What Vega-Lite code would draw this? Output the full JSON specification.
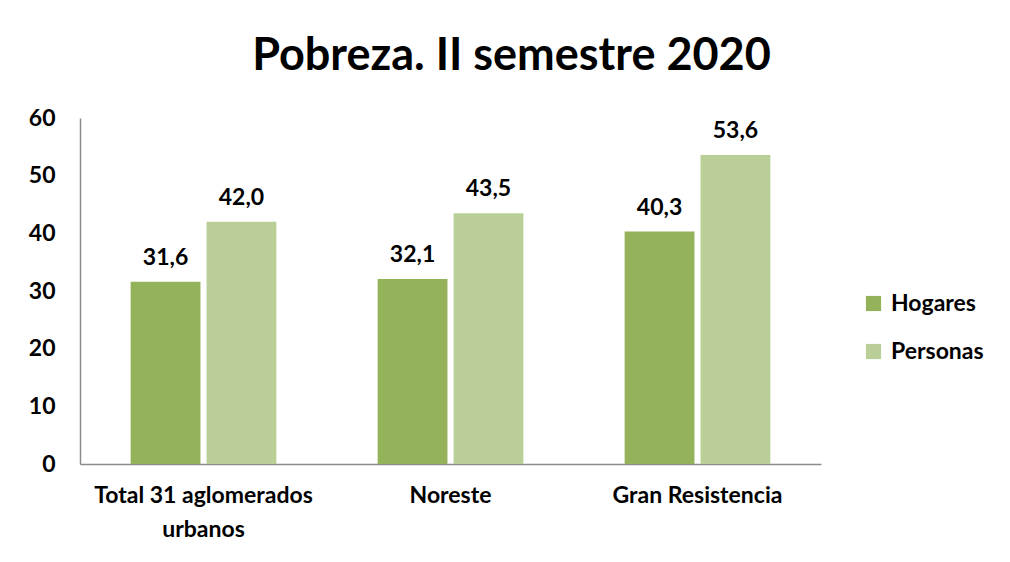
{
  "$schema": "https://vega.github.io/schema/vega-lite/v6.json",
  "autosize": {"type": "none"},
  "width": 741,
  "height": 346,
  "padding": {"left": 80, "top": 118, "right": 189, "bottom": 98},
  "background": "white",
  "title": {
    "text": "Pobreza. II semestre 2020",
    "font": "Lato",
    "fontSize": 45,
    "fontWeight": "bold",
    "color": "#000000",
    "anchor": "middle",
    "dx": 61,
    "offset": 28
  },
  "data": {
    "values": [
      {"region": "Total 31 aglomerados urbanos", "serie": "Hogares", "valor": 31.6},
      {"region": "Total 31 aglomerados urbanos", "serie": "Personas", "valor": 42.0},
      {"region": "Noreste", "serie": "Hogares", "valor": 32.1},
      {"region": "Noreste", "serie": "Personas", "valor": 43.5},
      {"region": "Gran Resistencia", "serie": "Hogares", "valor": 40.3},
      {"region": "Gran Resistencia", "serie": "Personas", "valor": 53.6}
    ]
  },
  "encoding": {
    "x": {
      "field": "region",
      "type": "nominal",
      "sort": null,
      "title": null,
      "scale": {"paddingInner": 0.41, "paddingOuter": 0.205},
      "axis": {
        "labelAngle": 0,
        "labelFont": "Lato",
        "labelFontSize": 23,
        "labelFontWeight": "bold",
        "labelColor": "#000000",
        "labelPadding": 20,
        "labelLineHeight": 34,
        "labelLimit": 0,
        "ticks": false,
        "domainColor": "#8c8c8c",
        "domainWidth": 1.5,
        "labelExpr": "datum.label == 'Total 31 aglomerados urbanos' ? ['Total 31 aglomerados', 'urbanos'] : datum.label"
      }
    },
    "xOffset": {"field": "serie", "type": "nominal", "scale": {"paddingInner": 0.08}},
    "y": {
      "field": "valor",
      "type": "quantitative",
      "title": null,
      "scale": {"domain": [0, 60], "nice": false},
      "axis": {
        "values": [0, 10, 20, 30, 40, 50, 60],
        "grid": false,
        "ticks": false,
        "labelFont": "Lato",
        "labelFontSize": 23,
        "labelFontWeight": "bold",
        "labelColor": "#000000",
        "labelPadding": 25,
        "domainColor": "#8c8c8c",
        "domainWidth": 1.5
      }
    },
    "color": {
      "field": "serie",
      "type": "nominal",
      "scale": {"domain": ["Hogares", "Personas"], "range": ["#94b25a", "#bacf98"]},
      "legend": {
        "title": null,
        "orient": "none",
        "legendX": 782,
        "legendY": 174,
        "symbolType": "square",
        "symbolSize": 230,
        "symbolStrokeWidth": 0,
        "labelFont": "Lato",
        "labelFontSize": 23,
        "labelFontWeight": "bold",
        "labelColor": "#000000",
        "labelOffset": 6,
        "rowPadding": 24
      }
    }
  },
  "layer": [
    {"mark": {"type": "bar"}},
    {
      "mark": {"type": "text", "baseline": "bottom", "dy": -12, "font": "Lato", "fontSize": 23, "fontWeight": "bold", "color": "#000000"},
      "encoding": {
        "text": {"field": "valor", "type": "quantitative", "format": ".1f", "formatType": "number"},
        "color": {"value": "#000000"}
      }
    }
  ],
  "config": {
    "view": {"stroke": null},
    "locale": {"number": {"decimal": ",", "thousands": ".", "grouping": [3], "currency": ["$", ""]}}
  }
}
